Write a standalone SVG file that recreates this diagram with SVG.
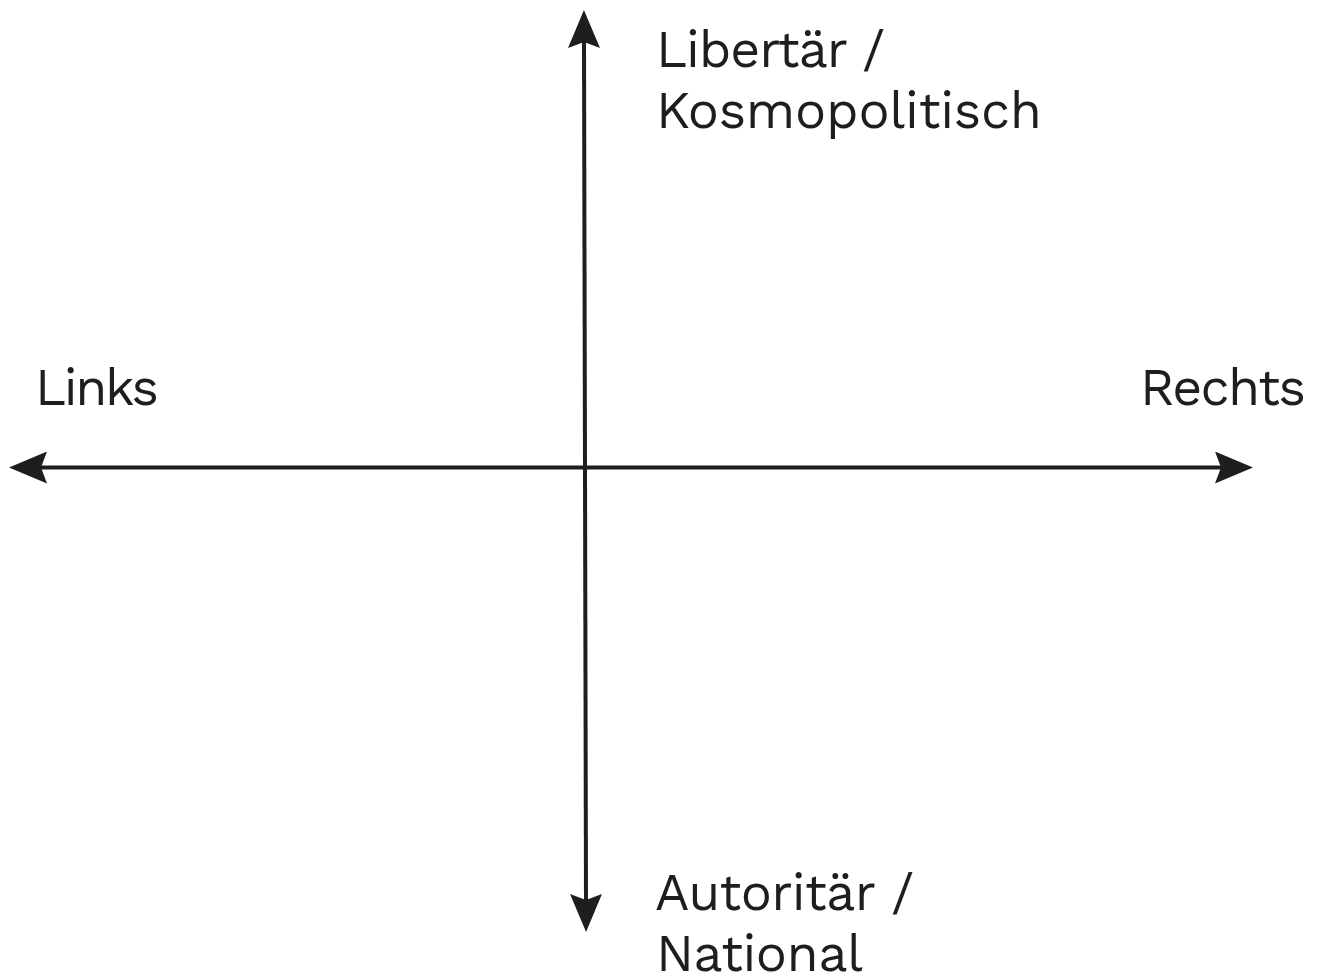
<svg xmlns="http://www.w3.org/2000/svg" width="1324" height="976" viewBox="0 0 1324 976">
  <style>
    .axis { stroke: #1e1e1e; stroke-width: 4; fill: none; }
    .lbl { font-family: "Work Sans", "Noto Sans", "Liberation Sans", sans-serif; font-size: 52px; fill: #1e1e1e; }
  </style>
  <defs>
    <marker id="arrow" viewBox="0 0 38 32" refX="6" refY="16" markerWidth="38" markerHeight="32" markerUnits="userSpaceOnUse" orient="auto-start-reverse">
      <path d="M0,0 L38,16 L0,32 L6,16 Z" fill="#1e1e1e"/>
    </marker>
  </defs>
  <rect width="1324" height="976" fill="#ffffff"/>
  <g id="connectors">
    <line class="axis" x1="41" y1="467.5" x2="1221" y2="467.5" marker-start="url(#arrow)" marker-end="url(#arrow)"/>
    <line class="axis" x1="584" y1="42" x2="586" y2="900" marker-start="url(#arrow)" marker-end="url(#arrow)"/>
  </g>
  <g id="label-top">
    <text class="lbl" x="656" y="67" textLength="229">Libertär /</text>
    <text class="lbl" x="656" y="128" textLength="386">Kosmopolitisch</text>
  </g>
  <g id="label-left">
    <text class="lbl" x="35" y="405" textLength="124">Links</text>
  </g>
  <g id="label-right">
    <text class="lbl" x="1140" y="405" textLength="166">Rechts</text>
  </g>
  <g id="label-bottom">
    <text class="lbl" x="655" y="910" textLength="259">Autoritär /</text>
    <text class="lbl" x="656" y="971" textLength="207">National</text>
  </g>
</svg>
